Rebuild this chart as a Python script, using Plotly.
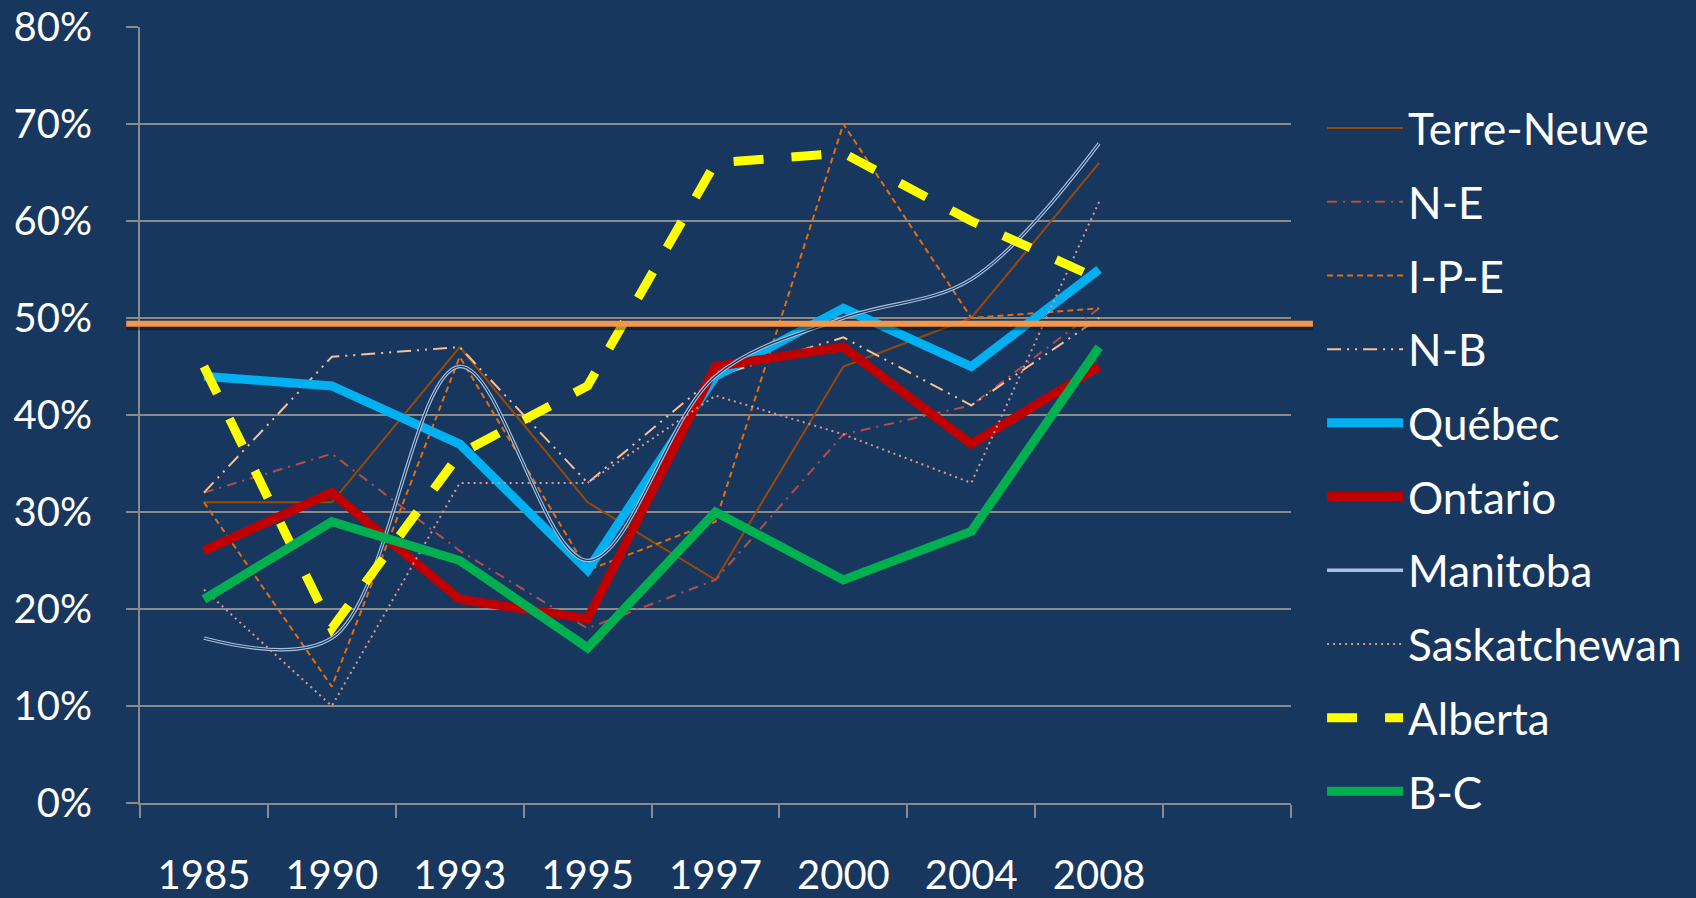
import plotly.graph_objects as go

# ---------------- data ----------------
YEARS = ["1985", "1990", "1993", "1995", "1997", "2000", "2004", "2008"]
X_CATEGORIES = YEARS + [" "]          # last slot on the axis is empty
Y_TICK_VALUES = [0, 10, 20, 30, 40, 50, 60, 70, 80]
Y_TICK_LABELS = ["0%", "10%", "20%", "30%", "40%", "50%", "60%", "70%", "80%"]

TERRE_NEUVE = [31, 31, 47, 31, 23, 45, 50, 66]
N_E = [32, 36, 26, 18, 23, 38, 41, 51]
I_P_E = [31, 12, 46, 24, 29, 70, 50, 51]
N_B = [32, 46, 47, 33, 44, 48, 41, 50]
QUEBEC = [44, 43, 37, 24, 44, 51, 45, 55]
ONTARIO = [26, 32, 21, 19, 45, 47, 37, 45]
MANITOBA = [17, 17, 45, 25, 44, 50, 54, 68]
SASKATCHEWAN = [22, 10, 33, 33, 42, 38, 33, 62]
ALBERTA = [45, 18, 36, 43, 66, 67, 60, 54]
B_C = [21, 29, 25, 16, 30, 23, 28, 47]
THRESHOLD = 49.4

BG = "#18375e"
GRID = "#8a8a8a"
FONT = "Lato"

series = [
    ("Terre-Neuve", TERRE_NEUVE, dict(color="#984807", width=2, dash="solid"), "linear"),
    ("N-E", N_E, dict(color="#b24d4a", width=2, dash="10px,6px,2px,6px"), "linear"),
    ("I-P-E", I_P_E, dict(color="#e46c0a", width=2, dash="6px,4px"), "linear"),
    ("N-B", N_B, dict(color="#fac090", width=2, dash="14px,6px,2px,6px,2px,6px"), "linear"),
    ("Québec", QUEBEC, dict(color="#00b0f0", width=9, dash="solid"), "linear"),
    ("Ontario", ONTARIO, dict(color="#c00000", width=9, dash="solid"), "linear"),
    ("Manitoba", MANITOBA, dict(color="#a9c1e2", width=3.5, dash="solid"), "spline"),
    ("Saskatchewan", SASKATCHEWAN, dict(color="#d99694", width=2, dash="2px,4px"), "linear"),
    ("Alberta", ALBERTA, dict(color="#ffff00", width=9, dash="30px,28px"), "linear"),
    ("B-C", B_C, dict(color="#00b050", width=9, dash="solid"), "linear"),
]

fig = go.Figure()
for i, (name, vals, line, shape) in enumerate(series):
    ln = dict(shape=shape, **line)
    if shape == "spline":
        ln["smoothing"] = 1.0
    fig.add_trace(go.Scatter(
        x=YEARS, y=vals, name=name, mode="lines", line=ln,
        legendgroup=f"g{i}", hoverinfo="skip",
    ))
    if name == "Manitoba":
        # inner dark stroke to imitate the double (compound) line
        fig.add_trace(go.Scatter(
            x=YEARS, y=vals, name=name, mode="lines", showlegend=False,
            line=dict(shape="spline", smoothing=1.0, color=BG, width=1.2),
            legendgroup=f"g{i}", hoverinfo="skip",
        ))

# reference line at ~49.4 % with a soft shadow
fig.add_shape(type="line", xref="paper", yref="y", x0=-0.012, x1=1.019,
              y0=THRESHOLD - 0.35, y1=THRESHOLD - 0.35,
              line=dict(color="rgba(0,0,0,0.35)", width=6), layer="above")
fig.add_shape(type="line", xref="paper", yref="y", x0=-0.012, x1=1.019,
              y0=THRESHOLD, y1=THRESHOLD,
              line=dict(color="#f79646", width=6), layer="above")

fig.update_layout(
    width=1696, height=898,
    paper_bgcolor=BG, plot_bgcolor=BG,
    margin=dict(l=140, r=405, t=27, b=95, autoexpand=False),
    font=dict(family=FONT, color="white", size=40),
    showlegend=True,
    legend=dict(
        x=1.027, xanchor="left", y=0.915, yanchor="top",
        bgcolor="rgba(0,0,0,0)", font=dict(family=FONT, size=44, color="white"),
        itemwidth=76, tracegroupgap=13.5, traceorder="grouped",
    ),
    xaxis=dict(
        type="category", categoryorder="array", categoryarray=X_CATEGORIES,
        range=[-0.5, len(X_CATEGORIES) - 0.5],
        showgrid=False, showline=True, linecolor=GRID, linewidth=2,
        ticks="outside", tickson="boundaries", ticklen=13, tickwidth=2, tickcolor=GRID,
        tickfont=dict(family=FONT, size=40, color="white"),
        ticklabelstandoff=36, zeroline=False, fixedrange=True,
    ),
    yaxis=dict(
        range=[0, 80], tickmode="array", tickvals=Y_TICK_VALUES, ticktext=Y_TICK_LABELS,
        showgrid=True, gridcolor=GRID, gridwidth=2,
        showline=True, linecolor=GRID, linewidth=2, zeroline=False,
        ticks="outside", ticklen=12, tickwidth=2, tickcolor=GRID,
        tickfont=dict(family=FONT, size=40, color="white"),
        ticklabelstandoff=26, fixedrange=True,
    ),
)

fig.write_html(
    "out.html",
    config={"displayModeBar": False, "staticPlot": False},
    post_script="document.body.style.margin='0';document.body.style.overflow='hidden';",
)
